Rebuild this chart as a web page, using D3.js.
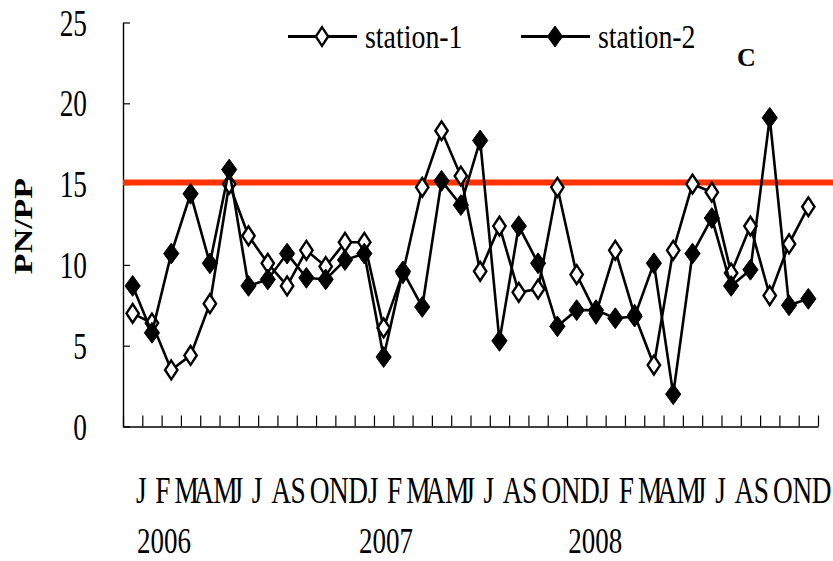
<!DOCTYPE html>
<html>
<head>
<meta charset="utf-8">
<script src="https://cdn.jsdelivr.net/npm/d3@7"></script>
<style>
  body { margin: 0; background: #fff; }
  svg text { font-family: "Liberation Serif", "Times New Roman", "DejaVu Serif", serif; fill: #000; }
</style>
</head>
<body>
<svg id="chart"></svg>
<script>
// monthly PN/PP ratio, Jan 2006 - Dec 2008
const monthLetters = ["J","F","M","A","M","J","J","A","S","O","N","D"];
const years = ["2006", "2007", "2008"];
const seriesNames = ["station-1", "station-2"];
const yTicks = [0, 5, 10, 15, 20, 25];
const threshold = 15.1;

const station1 = [7.0, 6.4, 3.5, 4.4, 7.6, 15.0, 11.8, 10.1, 8.7, 10.9, 9.9, 11.4,
                  11.4, 6.1, 9.5, 14.8, 18.3, 15.5, 9.6, 12.4, 8.3, 8.5, 14.8, 9.4,
                  7.0, 10.9, 6.9, 3.8, 10.9, 15.0, 14.5, 9.5, 12.4, 8.1, 11.3, 13.6];
const station2 = [8.7, 5.8, 10.7, 14.4, 10.1, 15.9, 8.7, 9.1, 10.7, 9.2, 9.1, 10.3,
                  10.7, 4.3, 9.6, 7.4, 15.2, 13.7, 17.7, 5.3, 12.4, 10.1, 6.2, 7.2,
                  7.2, 6.7, 6.8, 10.1, 2.0, 10.7, 12.9, 8.7, 9.7, 19.1, 7.5, 7.9];

const W = 833, H = 561;
const svg = d3.select('#chart').attr('width', W).attr('height', H);
const serif = '"Liberation Serif", "Times New Roman", "DejaVu Serif", serif';

const plot = {left: 123, right: 818, top: 22.5, bottom: 426.5};
const n = station1.length;
const labels = years.flatMap(() => monthLetters);

const x = d3.scaleBand().domain(d3.range(n)).range([plot.left, plot.right]);
const xEdge = d3.scaleLinear().domain([0, n]).range([plot.left, plot.right]);
const y = d3.scaleLinear().domain([0, 25]).range([plot.bottom, plot.top]);
const cx = i => x(i) + x.bandwidth() / 2;

// narrow serif look of the original
const squeeze = 0.72;

// y axis
const yAxis = svg.append('g')
  .attr('transform', `translate(${plot.left},0)`)
  .call(d3.axisLeft(y).tickValues(yTicks).tickSize(-7).tickSizeOuter(0));
yAxis.attr('font-family', null);
yAxis.select('.domain').attr('stroke-width', 1.4);
yAxis.selectAll('.tick line').attr('stroke-width', 1.2);
yAxis.selectAll('.tick text')
  .attr('x', null).attr('dy', '0.33em')
  .attr('transform', `translate(-36,0) scale(${squeeze},1)`)
  .attr('text-anchor', 'end')
  .style('font-family', serif)
  .style('font-size', '38px');

// x axis: ticks on month boundaries, pointing inward
const xAxis = svg.append('g')
  .attr('transform', `translate(0,${plot.bottom})`)
  .call(d3.axisBottom(xEdge).tickValues(d3.range(0, n + 1)).tickSize(-11)
    .tickSizeOuter(0).tickFormat(''));
xAxis.select('.domain').attr('stroke-width', 1.4);
xAxis.selectAll('.tick line').attr('stroke-width', 1.2);

// month letters
svg.append('g').selectAll('text')
  .data(labels)
  .join('text')
  .attr('transform', (d, i) => `translate(${x(i) + 13},503) scale(${squeeze},1)`)
  .style('font-family', serif)
  .style('font-size', '38px')
  .text(d => d);

// year labels (typed below the months in the original)
const yearAt = [0.73, 12.23, 23.06];
svg.append('g').selectAll('text')
  .data(years)
  .join('text')
  .attr('transform', (d, i) => `translate(${xEdge(yearAt[i])},553) scale(0.75,1)`)
  .style('font-family', serif)
  .style('font-size', '36px')
  .text(d => d);

// y title
svg.append('text')
  .attr('transform', `translate(32,226) scale(${squeeze},1) rotate(-90)`)
  .attr('text-anchor', 'middle')
  .style('font-family', serif)
  .style('font-size', '34px')
  .style('font-weight', 'bold')
  .text('PN/PP');

// threshold line
svg.append('line')
  .attr('x1', plot.left).attr('x2', W)
  .attr('y1', y(threshold)).attr('y2', y(threshold))
  .attr('stroke', '#ff3300').attr('stroke-width', 6);

const diamond = (w, h) => `M0,${-h}L${w},0L0,${h}L${-w},0Z`;
const line = d3.line().x((d, i) => cx(i)).y(d => y(d));

const styles = [
  {data: station1, fill: '#fff', stroke: '#000', sw: 2.4, shape: diamond(6.2, 9.4)},
  {data: station2, fill: '#000', stroke: '#000', sw: 1, shape: diamond(7.6, 10.4)}
];

styles.forEach(s => {
  svg.append('path')
    .datum(s.data)
    .attr('d', line)
    .attr('fill', 'none')
    .attr('stroke', '#000')
    .attr('stroke-width', 2.6);
  svg.append('g').selectAll('path')
    .data(s.data)
    .join('path')
    .attr('transform', (d, i) => `translate(${cx(i)},${y(d)})`)
    .attr('d', s.shape)
    .attr('fill', s.fill)
    .attr('stroke', s.stroke)
    .attr('stroke-width', s.sw);
});

// legend
const legendX = [288, 521];
seriesNames.forEach((name, i) => {
  const g = svg.append('g').attr('transform', `translate(${legendX[i]},36.5)`);
  g.append('line').attr('x1', 0).attr('x2', 69)
    .attr('stroke', '#000').attr('stroke-width', 3);
  g.append('path')
    .attr('transform', 'translate(34,0)')
    .attr('d', styles[i].shape)
    .attr('fill', styles[i].fill)
    .attr('stroke', '#000')
    .attr('stroke-width', styles[i].sw);
  g.append('text')
    .attr('transform', `translate(77,11.5) scale(0.82,1)`)
    .style('font-family', serif)
    .style('font-size', '34px')
    .text(name);
});

svg.append('text')
  .attr('x', 737).attr('y', 66)
  .style('font-family', serif)
  .style('font-size', '26px')
  .style('font-weight', 'bold')
  .text('C');
</script>
</body>
</html>
